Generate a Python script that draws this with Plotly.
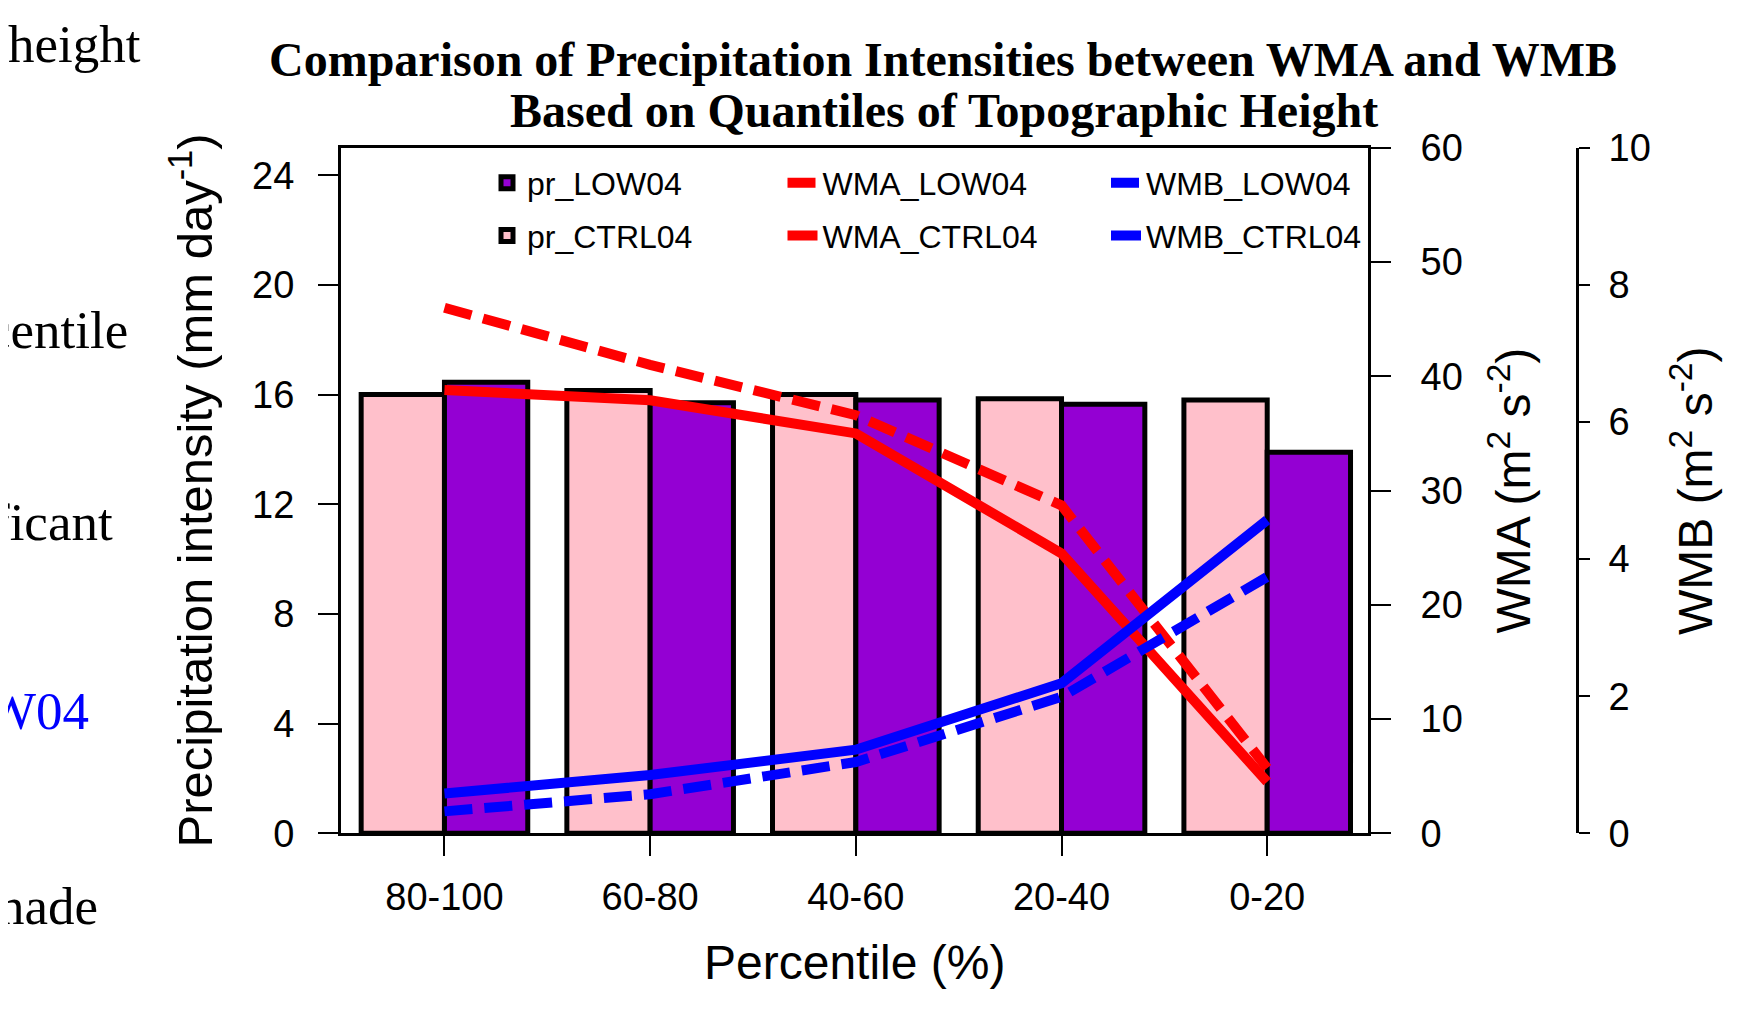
import plotly.graph_objects as go

categories = ["80-100", "60-80", "40-60", "20-40", "0-20"]
pr_ctrl04 = [16.0, 16.15, 16.0, 15.85, 15.8]
pr_low04 = [16.45, 15.7, 15.8, 15.65, 13.9]
wma_low04 = [46.0, 41.0, 36.6, 28.7, 5.7]
wma_ctrl04 = [38.8, 37.9, 35.0, 24.5, 4.5]
wmb_low04 = [0.32, 0.57, 1.04, 1.99, 3.74]
wmb_ctrl04 = [0.58, 0.85, 1.22, 2.19, 4.57]

W, H = 1742, 1028
OFF = 8  # page offset of the figure in the browser
xpos = list(range(len(categories)))


def px(x):
    return (x - OFF) / W


def py(y):
    return (H - (y - OFF)) / H


sans = "Liberation Sans, Arial, Helvetica, sans-serif"
serif = "Liberation Serif, Times New Roman, serif"

fig = go.Figure()
fig.add_trace(go.Bar(x=xpos, y=pr_ctrl04, name="pr_CTRL04", legend="legend", legendgroup="a2", legendrank=2,
                     marker=dict(color="#FFC0CB", line=dict(color="black", width=5))))
fig.add_trace(go.Bar(x=xpos, y=pr_low04, name="pr_LOW04", legend="legend", legendgroup="a1", legendrank=1,
                     marker=dict(color="#9400D3", line=dict(color="black", width=5))))
fig.add_trace(go.Scatter(x=xpos, y=wma_low04, name="WMA_LOW04", mode="lines", yaxis="y2",
                         legend="legend2", legendgroup="b1", legendrank=1,
                         line=dict(color="#FF0000", width=10, dash="28px,12px")))
fig.add_trace(go.Scatter(x=xpos, y=wma_ctrl04, name="WMA_CTRL04", mode="lines", yaxis="y2",
                         legend="legend2", legendgroup="b2", legendrank=2,
                         line=dict(color="#FF0000", width=10)))
fig.add_trace(go.Scatter(x=xpos, y=wmb_low04, name="WMB_LOW04", mode="lines", yaxis="y3",
                         legend="legend3", legendgroup="c1", legendrank=1,
                         line=dict(color="#0000FF", width=10, dash="28px,12px")))
fig.add_trace(go.Scatter(x=xpos, y=wmb_ctrl04, name="WMB_CTRL04", mode="lines", yaxis="y3",
                         legend="legend3", legendgroup="c2", legendrank=2,
                         line=dict(color="#0000FF", width=10)))

xdom = [px(341), px(1368)]
ydom = [py(833.3), py(147.8)]

axcommon = dict(showgrid=False, zeroline=False, showline=True, linecolor="black", linewidth=3,
                ticks="outside", tickcolor="black", tickwidth=2, ticklen=20, automargin=False,
                tickfont=dict(family=sans, size=38, color="black"))


def leg(xt):
    return dict(orientation="v", x=px(xt - 45), y=py(155.5), xanchor="left", yanchor="top",
                font=dict(family=sans, size=32, color="black"), bgcolor="rgba(0,0,0,0)",
                borderwidth=0, traceorder="grouped", tracegroupgap=8)


fig.update_layout(
    template="plotly_white",
    width=W, height=H, autosize=False,
    margin=dict(l=0, r=0, t=0, b=0, autoexpand=False),
    paper_bgcolor="white", plot_bgcolor="white",
    barmode="group", bargap=0.19, bargroupgap=0,
    showlegend=True,
    legend=leg(532), legend2=leg(827.5), legend3=leg(1151),
    xaxis=dict(domain=xdom, range=[-0.503, 4.49], tickvals=xpos, ticktext=categories,
               mirror=True, ticklabelstandoff=8, **axcommon),
    yaxis=dict(domain=ydom, range=[0, 25], tickvals=[0, 4, 8, 12, 16, 20, 24],
               mirror=True, ticklabelstandoff=16, **axcommon),
    yaxis2=dict(overlaying="y", side="right", anchor="x", range=[0, 60], tickvals=[0, 10, 20, 30, 40, 50, 60],
                ticklabelstandoff=22, **axcommon),
    yaxis3=dict(overlaying="y", side="right", anchor="free", position=px(1577), range=[0, 10],
                tickvals=[0, 2, 4, 6, 8, 10], ticklabelstandoff=11,
                **{**axcommon, "ticklen": 11}),
)

ann = []
ann.append(dict(text="<b>Comparison of Precipitation Intensities between WMA and WMB</b>", x=px(943), y=py(59),
                font=dict(family=serif, size=48, color="black")))
ann.append(dict(text="<b>Based on Quantiles of Topographic Height</b>", x=px(944), y=py(111),
                font=dict(family=serif, size=48, color="black")))
ann.append(dict(text="Precipitation intensity (mm day<sup>-1</sup>)", x=px(191.5), y=py(491), textangle=-90,
                font=dict(family=sans, size=49, color="black")))
ann.append(dict(text="WMA (m<sup>2</sup> s<sup>-2</sup>)", x=px(1509.5), y=py(491), textangle=-90,
                font=dict(family=sans, size=48, color="black")))
ann.append(dict(text="WMB (m<sup>2</sup> s<sup>-2</sup>)", x=px(1692), y=py(491), textangle=-90,
                font=dict(family=sans, size=48, color="black")))
ann.append(dict(text="Percentile (%)", x=px(854), y=py(962),
                font=dict(family=sans, size=48, color="black")))
frag = [("height", 143, 44, "black"), ("centile", 130, 330, "black"), ("ficant", 115, 522, "black"),
        ("W04", 91, 711, "#0000FF"), ("nade", 100, 906, "black")]
for t, xr, yc, c in frag:
    ann.append(dict(text=t, x=px(xr), y=py(yc), xanchor="right",
                    font=dict(family=serif, size=53, color=c)))
for a in ann:
    a.setdefault("xanchor", "center")
    a.update(xref="paper", yref="paper", yanchor="middle", showarrow=False)
fig.update_layout(annotations=ann)

fig.write_html("out.html", config={"displayModeBar": False})
